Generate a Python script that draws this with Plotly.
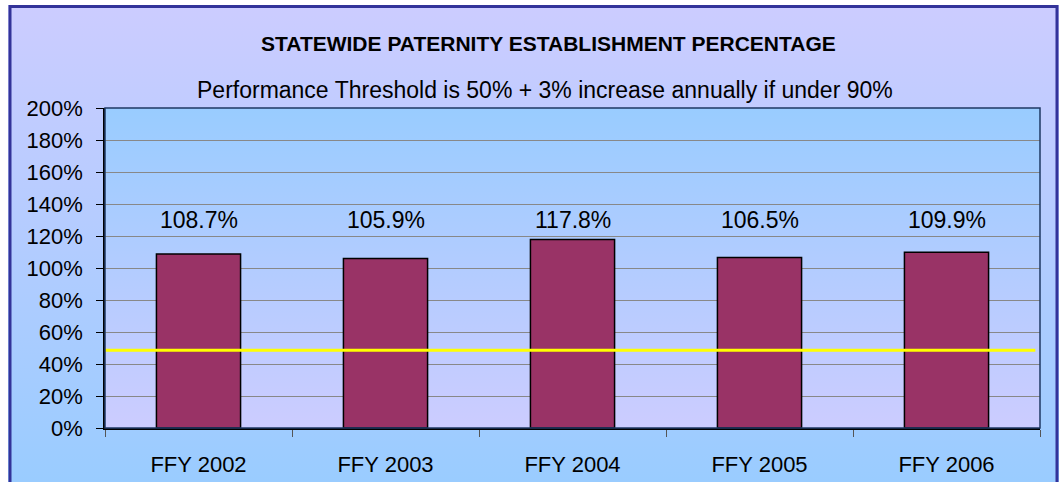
import base64
import plotly.graph_objects as go

# data
years = ['FFY 2002', 'FFY 2003', 'FFY 2004', 'FFY 2005', 'FFY 2006']
paternity_pct = [108.7, 105.9, 117.8, 106.5, 109.9]
threshold_pct = 48.6
label_level = 130
y_ticks = list(range(0, 201, 20))

W, H = 1061, 482
L, R, T, B = 105, 21, 108, 54
pw, ph = W - L - R, H - T - B


def px_x(px):
    return (px - L) / pw


def px_y(py):
    return (H - B - py) / ph


def gradient(c_top, c_bot):
    svg = ('<svg xmlns="http://www.w3.org/2000/svg" width="10" height="100" preserveAspectRatio="none">'
           '<defs><linearGradient id="g" x1="0" y1="0" x2="0" y2="1">'
           f'<stop offset="0" stop-color="{c_top}"/><stop offset="1" stop-color="{c_bot}"/>'
           '</linearGradient></defs><rect width="10" height="100" fill="url(#g)"/></svg>')
    return 'data:image/svg+xml;base64,' + base64.b64encode(svg.encode()).decode()


fig = go.Figure()
fig.add_trace(go.Bar(
    x=years, y=paternity_pct, width=0.45,
    marker=dict(color='#993366', line=dict(color='black', width=1.5)),
    showlegend=False, hoverinfo='skip'
))

for yr, v in zip(years, paternity_pct):
    fig.add_annotation(x=yr, y=label_level, text=f'{v:.1f}%', showarrow=False,
                       font=dict(size=23, color='black'))

fig.add_annotation(xref='paper', yref='paper', x=px_x(548), y=px_y(30),
                   text='<b>STATEWIDE PATERNITY ESTABLISHMENT PERCENTAGE</b>',
                   showarrow=False, font=dict(size=21, color='black'))
fig.add_annotation(xref='paper', yref='paper', x=px_x(545), y=px_y(75),
                   text='Performance Threshold is 50% + 3% increase annually if under 90%',
                   showarrow=False, font=dict(size=23, color='black'))

# threshold line
fig.add_shape(type='line', xref='paper', yref='y', x0=0, x1=0.995,
              y0=threshold_pct, y1=threshold_pct,
              line=dict(color='#FFFF00', width=3), layer='above')
# plot area border
fig.add_shape(type='rect', xref='paper', yref='paper', x0=0, x1=1, y0=0, y1=1,
              line=dict(color='#1F3864', width=1.5), layer='above')
# outer chart border
fig.add_shape(type='rect', xref='paper', yref='paper',
              x0=px_x(10), x1=px_x(1057), y0=px_y(492), y1=px_y(6.5),
              line=dict(color='#333399', width=3), layer='above')

fig.update_layout(
    width=W, height=H,
    margin=dict(l=L, r=R, t=T, b=B),
    paper_bgcolor='white', plot_bgcolor='rgba(0,0,0,0)',
    font=dict(family='Liberation Sans, Arial', size=22, color='black'),
    images=[
        dict(source=gradient('#CCCCFF', '#99CCFF'), xref='paper', yref='paper',
             x=px_x(8), y=px_y(5), sizex=(1059 - 8) / pw, sizey=(490 - 5) / ph,
             xanchor='left', yanchor='top', sizing='stretch', layer='below'),
        dict(source=gradient('#99CCFF', '#CCCCFF'), xref='paper', yref='paper',
             x=0, y=1, sizex=1, sizey=1,
             xanchor='left', yanchor='top', sizing='stretch', layer='below'),
    ],
)

fig.update_xaxes(
    showline=True, linecolor='black', linewidth=1.5,
    ticks='outside', tickson='boundaries', ticklen=7, tickcolor='#555555',
    ticklabelstandoff=16, showgrid=False, automargin=False
)
fig.update_yaxes(
    range=[0, 200], tickmode='array', tickvals=y_ticks,
    ticktext=[f'{v}%' for v in y_ticks],
    showline=True, linecolor='black', linewidth=1.5,
    ticks='outside', ticklen=7, tickcolor='black', ticklabelstandoff=9,
    showgrid=True, gridcolor='#888888', gridwidth=1, zeroline=False,
    automargin=False
)

fig.write_html("out.html", config={'displayModeBar': False},
               post_script="document.body.style.margin='0';")
